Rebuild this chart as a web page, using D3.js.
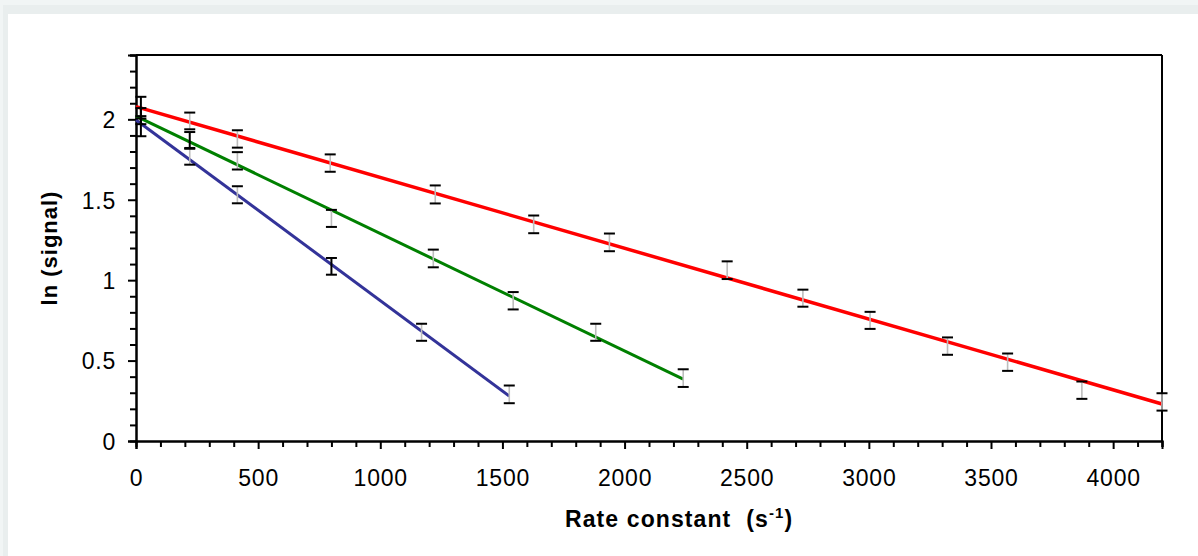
<!DOCTYPE html>
<html>
<head>
<meta charset="utf-8">
<script src="https://cdn.jsdelivr.net/npm/d3@7"></script>
<style>
  html, body { margin: 0; padding: 0; background: #e9eeee; }
  svg { display: block; }
  text { font-family: "Liberation Sans", Arial, sans-serif; fill: #000; }
</style>
</head>
<body>
<svg id="chart" width="1198" height="556"></svg>
<script>
// ---- data ----
const redX   = [20, 220, 415, 795, 1225, 1628, 1938, 2420, 2730, 3005, 3322, 3568, 3872, 4200];
const redY   = [2.08, 1.99, 1.878, 1.728, 1.533, 1.347, 1.235, 1.062, 0.888, 0.75, 0.59, 0.49, 0.316, 0.243];
const redErr = [0.06, 0.052, 0.054, 0.054, 0.056, 0.055, 0.055, 0.055, 0.053, 0.053, 0.054, 0.054, 0.054, 0.054];
const redDark = [1, 0, 0, 0, 0, 0, 0, 0, 0, 0, 0, 0, 0, 0];

const greenX   = [20, 220, 415, 800, 1217, 1544, 1882, 2240];
const greenY   = [2.02, 1.869, 1.742, 1.384, 1.135, 0.872, 0.676, 0.391];
const greenErr = [0.05, 0.052, 0.054, 0.053, 0.055, 0.054, 0.053, 0.055];
const greenDark = [1, 1, 0, 0, 0, 0, 0, 0];

const blueX   = [20, 220, 415, 800, 1169, 1528];
const blueY   = [1.95, 1.77, 1.531, 1.086, 0.676, 0.29];
const blueErr = [0.055, 0.052, 0.053, 0.052, 0.053, 0.055];
const blueDark = [1, 0, 0, 1, 0, 0];

// fitted lines (endpoints in data units)
const redFitX = [0, 4200],   redFitY = [2.079, 0.23];
const greenFitX = [0, 2240], greenFitY = [2.02, 0.385];
const blueFitX = [0, 1528],  blueFitY = [1.996, 0.28];

const xMajorTicks = [0, 500, 1000, 1500, 2000, 2500, 3000, 3500, 4000];
const yMajorTicks = [0, 0.5, 1, 1.5, 2];
const xTitle = "Rate constant  (s";
const xTitleSup = "-1";
const yTitle = "ln (signal)";

// ---- layout ----
const svg = d3.select("#chart");
const W = 1198, H = 556;
const plot = { left: 136, right: 1162, top: 55, bottom: 441 };

svg.append("rect").attr("x", 0).attr("y", 0).attr("width", W).attr("height", H).attr("fill", "#e9eeee");
svg.append("rect").attr("x", 0).attr("y", 0).attr("width", W).attr("height", 5).attr("fill", "#f1f5f5");
svg.append("rect").attr("x", 0).attr("y", 0).attr("width", 3).attr("height", H).attr("fill", "#f1f5f5");
svg.append("rect").attr("x", 8).attr("y", 14).attr("width", W - 8).attr("height", H - 14).attr("fill", "#ffffff");

const x = d3.scaleLinear().domain([0, 4200]).range([plot.left, plot.right]);
const y = d3.scaleLinear().domain([0, 2.4]).range([plot.bottom, plot.top]);

// frame (top and right)
const g = svg.append("g");
g.append("line").attr("x1", x(0)).attr("x2", x(4200)).attr("y1", y(2.4)).attr("y2", y(2.4))
  .attr("stroke", "#000").attr("stroke-width", 2);
g.append("line").attr("x1", x(4200)).attr("x2", x(4200)).attr("y1", y(2.4)).attr("y2", y(0))
  .attr("stroke", "#000").attr("stroke-width", 2);

// minor ticks
const xMinor = d3.range(0, 4201, 100).filter(v => v % 500 !== 0);
const yMinor = d3.range(0, 25, 1).map(v => v / 10).filter(v => Math.abs(v * 2 - Math.round(v * 2)) > 1e-6);

const xAxisMinor = d3.axisBottom(x).tickValues(xMinor).tickSize(6).tickFormat("");
const xAxisMajor = d3.axisBottom(x).tickValues(xMajorTicks).tickSize(8).tickPadding(26).tickFormat(d3.format("d"));
const yAxisMinor = d3.axisLeft(y).tickValues(yMinor).tickSize(6).tickFormat("");
const yAxisMajor = d3.axisLeft(y).tickValues(yMajorTicks).tickSize(8).tickPadding(12).tickFormat(d => d3.format("")(d));

function styleAxis(sel) {
  sel.select(".domain").attr("stroke", "#000").attr("stroke-width", 2);
  sel.selectAll(".tick line").attr("stroke", "#000").attr("stroke-width", 2);
  sel.selectAll(".tick text").attr("font-size", 23).style("letter-spacing", "0.8px")
    .attr("font-family", "Liberation Sans, Arial, sans-serif").attr("fill", "#000");
}

const gxm = svg.append("g").attr("transform", `translate(0,${plot.bottom})`).call(xAxisMinor);
const gx = svg.append("g").attr("transform", `translate(0,${plot.bottom})`).call(xAxisMajor);
const gym = svg.append("g").attr("transform", `translate(${plot.left},0)`).call(yAxisMinor);
const gy = svg.append("g").attr("transform", `translate(${plot.left},0)`).call(yAxisMajor);
[gxm, gx, gym, gy].forEach(styleAxis);
gx.selectAll(".tick text").attr("dy", "0").attr("y", 45);
gy.selectAll(".tick text").attr("dy", "0.36em").attr("x", -20);

// lines
const line = d3.line().x(d => x(d[0])).y(d => y(d[1]));
function drawFit(xs, ys, color, w) {
  svg.append("path").datum(xs.map((v, i) => [v, ys[i]]))
    .attr("d", line).attr("fill", "none").attr("stroke", color).attr("stroke-width", w);
}
drawFit(redFitX, redFitY, "#ff0000", 3.5);
drawFit(greenFitX, greenFitY, "#008000", 3);
drawFit(blueFitX, blueFitY, "#333399", 3);

// error bars
function drawErr(xs, ys, es, dark) {
  const data = xs.map((v, i) => ({ x: v, y: ys[i], e: es[i], d: dark[i] }));
  const gg = svg.append("g");
  const bars = gg.selectAll("g").data(data).join("g");
  bars.append("line").attr("x1", d => x(d.x)).attr("x2", d => x(d.x))
    .attr("y1", d => y(d.y + d.e)).attr("y2", d => y(d.y - d.e))
    .attr("stroke", d => d.d ? "#000" : "#bcbcbc").attr("stroke-width", d => d.d ? 2 : 1.6);
  [1, -1].forEach(s => {
    bars.append("line").attr("x1", d => x(d.x) - 5.5).attr("x2", d => x(d.x) + 5.5)
      .attr("y1", d => y(d.y + s * d.e)).attr("y2", d => y(d.y + s * d.e))
      .attr("stroke", "#000").attr("stroke-width", 2);
  });
}
drawErr(blueX, blueY, blueErr, blueDark);
drawErr(greenX, greenY, greenErr, greenDark);
drawErr(redX, redY, redErr, redDark);

// titles
const xt = svg.append("text").attr("x", 565).attr("y", 527)
  .attr("font-size", 23).attr("font-weight", "bold").style("letter-spacing", "1.1px")
  .style("white-space", "pre");
xt.append("tspan").text(xTitle);
xt.append("tspan").attr("font-size", 15).attr("dy", -9).text(xTitleSup);
xt.append("tspan").attr("dy", 9).text(")");

svg.append("text")
  .attr("transform", `translate(57,${(plot.top + plot.bottom) / 2}) rotate(-90)`)
  .attr("text-anchor", "middle").attr("font-size", 22).attr("font-weight", "bold")
  .style("letter-spacing", "1px").text(yTitle);
</script>
</body>
</html>
